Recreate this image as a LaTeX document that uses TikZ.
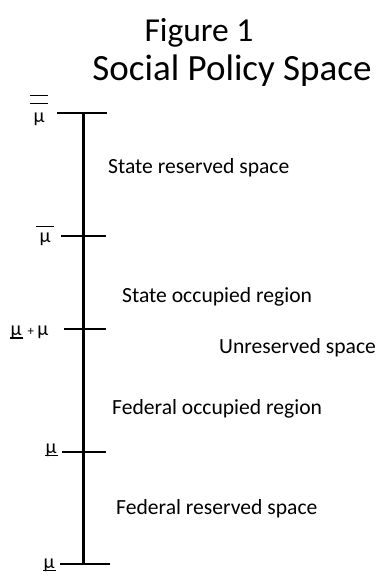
\documentclass[tikz,border=0pt]{standalone}
\usepackage{fontspec}
\setmainfont{Carlito}
\begin{document}
\begin{tikzpicture}[x=1pt,y=-1pt,
  axis/.style={line width=3pt},
  tick/.style={line width=2.5pt},
  bar/.style={line width=1.3pt},
  region/.style={anchor=west,font=\fontsize{21.6}{24}\selectfont,inner sep=0pt},
  mulabel/.style={anchor=base,font=\fontsize{20}{22}\selectfont,inner sep=0pt}]
\useasboundingbox (0,0) rectangle (381,576);
\node[inner sep=0pt,font=\fontsize{33.5}{38}\selectfont] (fig) at (199,33) {Figure 1};
\node[inner sep=0pt,font=\fontsize{37}{42}\selectfont] (title) at (232,71) {Social Policy Space};
\coordinate (top) at (83,113);
\coordinate (bot) at (83,565);
\draw[axis] (top) -- (bot);
\coordinate (t1l) at (57,113);   \coordinate (t1r) at (107,113);
\coordinate (t2l) at (61,236);   \coordinate (t2r) at (106,236);
\coordinate (t3l) at (64,329);   \coordinate (t3r) at (106,329);
\coordinate (t4l) at (62,452);   \coordinate (t4r) at (106,452);
\coordinate (t5l) at (60,564);   \coordinate (t5r) at (110,564);
\foreach \i in {1,...,5} \draw[tick] (t\i l) -- (t\i r);
% labels
\node[mulabel] (m1) at (39,122) {μ};
\draw[bar] ([xshift=-3pt,yshift=9pt]m1.north west) -- ([xshift=3pt,yshift=9pt]m1.north east);
\draw[bar] ([xshift=-3pt,yshift=17pt]m1.north west) -- ([xshift=3pt,yshift=17pt]m1.north east);
\node[mulabel] (m2) at (45,242) {μ};
\draw[bar] ([xshift=-3pt,yshift=6pt]m2.north west) -- ([xshift=3pt,yshift=6pt]m2.north east);
\node[mulabel] (m3a) at (16,335) {μ};
\draw[bar] ([yshift=-3pt]m3a.base west) -- ([xshift=1pt,yshift=-3pt]m3a.base east);
\node[mulabel,anchor=base west] (m3b) at (24,335) {\,{\fontsize{13}{15}\selectfont +}\,μ};
\node[mulabel] (m4) at (51,453) {μ};
\draw[bar] ([yshift=-2.5pt]m4.base west) -- ([xshift=1pt,yshift=-2.5pt]m4.base east);
\node[mulabel] (m5) at (49,568) {μ};
\draw[bar] ([yshift=-2.5pt]m5.base west) -- ([xshift=1pt,yshift=-2.5pt]m5.base east);
% regions
\node[region] (r1) at (108,168) {State reserved space};
\node[region] (r2) at (122,297) {State occupied region};
\node[region] (r3) at (219,348) {Unreserved space};
\node[region] (r4) at (112,409) {Federal occupied region};
\node[region] (r5) at (116,509) {Federal reserved space};
\end{tikzpicture}
\end{document}
